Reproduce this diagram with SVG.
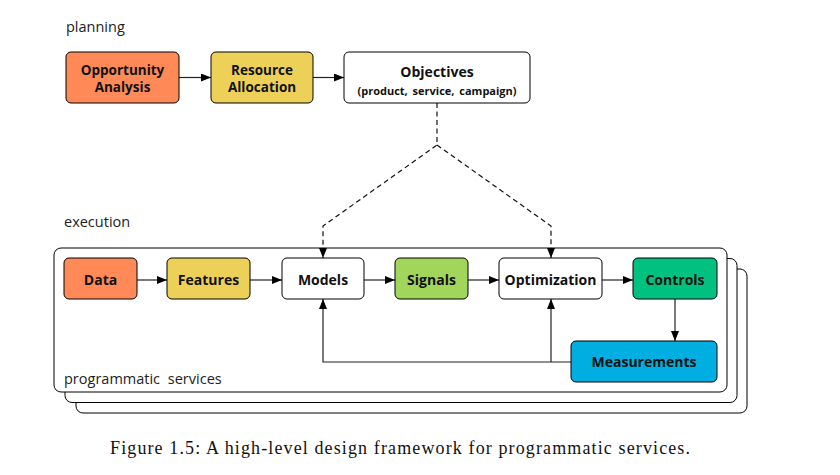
<svg xmlns="http://www.w3.org/2000/svg" width="840" height="475" viewBox="0 0 840 475">
<defs>
<marker id="arr" viewBox="0 0 10 8" refX="10" refY="4" markerWidth="10" markerHeight="8" markerUnits="userSpaceOnUse" orient="auto">
<path d="M0,0 L10,4 L0,8 z" fill="#000"/>
</marker>
</defs>
<style>
.box{stroke:#000;stroke-width:1}
.lbl{font-family:"Open Sans","Noto Sans","DejaVu Sans",sans-serif;font-weight:bold;font-size:14px;text-anchor:middle;fill:#111}
.two{font-size:13.5px}
.small{font-size:11px;word-spacing:2px}
.sec{font-family:"Open Sans","Noto Sans","DejaVu Sans",sans-serif;font-size:14.5px;fill:#222}
.line{fill:none;stroke:#222;stroke-width:1.2}
.dash{fill:none;stroke:#111;stroke-width:1.2;stroke-dasharray:5,3.5}
.cap{font-family:"Liberation Serif","DejaVu Serif",serif;font-size:18px;fill:#111}
</style>
<rect width="840" height="475" fill="#fff"/>
<g id="stack">
<rect x="76" y="269" width="671" height="144" rx="7" fill="#fff" stroke="#000" stroke-width="1"/>
<rect x="65" y="258.5" width="672" height="144" rx="7" fill="#fff" stroke="#000" stroke-width="1"/>
<rect x="54" y="248" width="673" height="144" rx="7" fill="#fff" stroke="#000" stroke-width="1"/>
</g>
<text class="sec" x="66" y="32">planning</text>
<text class="sec" x="64" y="227">execution</text>
<text class="sec" x="64" y="384" word-spacing="4">programmatic services</text>
<g id="connectors">
<line class="line" x1="179" y1="77.5" x2="211" y2="77.5" marker-end="url(#arr)"/>
<line class="line" x1="313" y1="77.5" x2="344" y2="77.5" marker-end="url(#arr)"/>
<polyline class="dash" points="437,103 437,145 323,226 323,258" marker-end="url(#arr)"/>
<polyline class="dash" points="437,145 551,226 551,258" marker-end="url(#arr)"/>
<line class="line" x1="137" y1="280" x2="167" y2="280" marker-end="url(#arr)"/>
<line class="line" x1="250" y1="280" x2="282" y2="280" marker-end="url(#arr)"/>
<line class="line" x1="364" y1="280" x2="395" y2="280" marker-end="url(#arr)"/>
<line class="line" x1="468" y1="280" x2="499" y2="280" marker-end="url(#arr)"/>
<line class="line" x1="602" y1="280" x2="633" y2="280" marker-end="url(#arr)"/>
<line class="line" x1="675" y1="299" x2="675" y2="341" marker-end="url(#arr)"/>
<polyline class="line" points="571,362 323,362 323,299" marker-end="url(#arr)"/>
<polyline class="line" points="551,362 551,299" marker-end="url(#arr)"/>
</g>
<g id="opportunity">
<rect class="box" x="66" y="52" width="113" height="51" rx="5" fill="#FF8A57"/>
<text class="lbl two" x="122.5" y="75">Opportunity</text>
<text class="lbl two" x="122.5" y="91.5">Analysis</text>
</g>
<g id="resource">
<rect class="box" x="211" y="52" width="102" height="51" rx="5" fill="#EDD058"/>
<text class="lbl two" x="262" y="75">Resource</text>
<text class="lbl two" x="262" y="91.5">Allocation</text>
</g>
<g id="objectives">
<rect class="box" x="344" y="52" width="186" height="51" rx="5" fill="#fff"/>
<text class="lbl" x="437" y="77">Objectives</text>
<text class="lbl small" x="437" y="95">(product, service, campaign)</text>
</g>
<g id="data">
<rect class="box" x="64" y="258" width="73" height="41" rx="5" fill="#FF8A57"/>
<text class="lbl" x="100.5" y="285">Data</text>
</g>
<g id="features">
<rect class="box" x="167" y="258" width="83" height="41" rx="5" fill="#EDD058"/>
<text class="lbl" x="208.5" y="285">Features</text>
</g>
<g id="models">
<rect class="box" x="282" y="258" width="82" height="41" rx="5" fill="#fff"/>
<text class="lbl" x="323" y="285">Models</text>
</g>
<g id="signals">
<rect class="box" x="395" y="258" width="73" height="41" rx="5" fill="#A2D65B"/>
<text class="lbl" x="431.5" y="285">Signals</text>
</g>
<g id="optimization">
<rect class="box" x="499" y="258" width="103" height="41" rx="5" fill="#fff"/>
<text class="lbl" x="550.5" y="285">Optimization</text>
</g>
<g id="controls">
<rect class="box" x="633" y="258" width="84" height="41" rx="5" fill="#00C180"/>
<text class="lbl" x="675" y="285">Controls</text>
</g>
<g id="measurements">
<rect class="box" x="571" y="341" width="146" height="41" rx="5" fill="#00AEE2"/>
<text class="lbl" x="644" y="367">Measurements</text>
</g>
<text class="cap" x="110" y="454" textLength="580" lengthAdjust="spacing">Figure 1.5: A high-level design framework for programmatic services.</text>
</svg>
